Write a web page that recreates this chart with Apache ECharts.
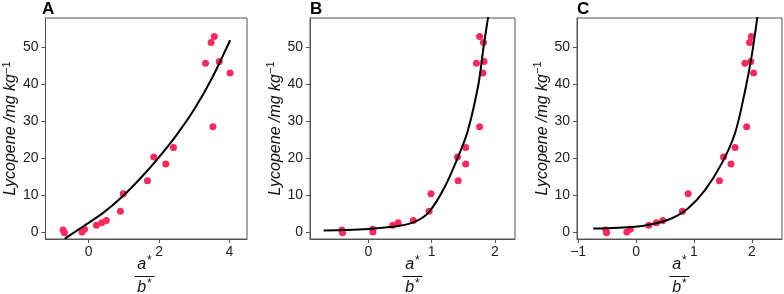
<!DOCTYPE html>
<html>
<head>
<meta charset="utf-8">
<script src="https://cdn.jsdelivr.net/npm/echarts@6/dist/echarts.min.js"></script>
<style>
  html, body { margin: 0; padding: 0; background: #fff; }
  #chart { width: 784px; height: 294px; }
</style>
</head>
<body>
<div id="chart"></div>
<script>
// measured lycopene values (same for every panel)
const lycopene = [0.6, -0.1, 0.1, 0.8, 1.9, 2.6, 3.2, 5.7, 10.4, 13.9, 20.3, 18.4, 22.9, 28.5, 52.8, 51.2, 45.6, 46.1, 43.0];
// x positions of the points in each panel
const xA = [-0.73, -0.69, -0.19, -0.12, 0.22, 0.37, 0.50, 0.90, 0.98, 1.67, 1.85, 2.19, 2.41, 3.53, 3.57, 3.48, 3.32, 3.71, 4.02];
const xB = [-0.42, -0.41, 0.07, 0.07, 0.385, 0.47, 0.71, 0.96, 0.99, 1.42, 1.41, 1.54, 1.54, 1.76, 1.76, 1.82, 1.71, 1.83, 1.81];
const xC = [-0.52, -0.51, -0.16, -0.10, 0.22, 0.35, 0.46, 0.80, 0.90, 1.44, 1.51, 1.64, 1.71, 1.91, 1.99, 1.96, 1.88, 1.98, 2.03];

// fitted curves
const curveAx = [-0.68, -0.17, 0.39, 0.95, 1.51, 2.0, 2.5, 3.0, 3.5, 4.02];
const curveAy = [-1.7, 1.5, 5.1, 9.6, 15.0, 20.3, 26.3, 33.2, 41.5, 51.8];
const curveBx = [-0.71, -0.35, 0, 0.47, 0.74, 0.95, 1.21, 1.42, 1.57, 1.74, 1.82, 1.90];
const curveBy = [0.5, 0.6, 0.9, 1.7, 2.9, 5.3, 12.3, 20.4, 27.2, 39.8, 49.7, 58.7];
const curveCx = [-0.74, -0.02, 0.33, 0.62, 0.90, 1.19, 1.48, 1.71, 1.88, 2.0, 2.10];
const curveCy = [1.0, 1.5, 2.4, 3.8, 6.5, 11.4, 18.6, 26.8, 38.0, 47.9, 58.7];

// axis ticks
const yTicks = [0, 10, 20, 30, 40, 50];
const xTicksA = [0, 2, 4];
const xTicksB = [0, 1, 2];
const xTicksC = [-1, 0, 1, 2];
const panelLabels = ['A', 'B', 'C'];

const font = 'Liberation Sans, Arial, sans-serif';
const axisColor = '#555';
const pointColor = '#fb2a5c';

const zip = (xs, ys) => xs.map((x, i) => [x, ys[i]]);

const panels = [
  { left: 42, xMin: -1.23, xMax: 4.5, ticks: xTicksA, pts: xA, cx: curveAx, cy: curveAy },
  { left: 310, xMin: -0.925, xMax: 2.32, ticks: xTicksB, pts: xB, cx: curveBx, cy: curveBy },
  { left: 577, xMin: -1.02, xMax: 2.52, ticks: xTicksC, pts: xC, cx: curveCx, cy: curveCy }
];
const gridTop = 18, gridH = 221, gridW = 205;

const option = {
  animation: false,
  grid: panels.map(p => ({
    left: p.left, top: gridTop, width: gridW, height: gridH,
    show: true, borderColor: axisColor, borderWidth: 1
  })),
  xAxis: panels.map((p, i) => ({
    gridIndex: i, type: 'value', min: p.xMin, max: p.xMax,
    splitLine: { show: false },
    axisLine: { show: true, onZero: false, lineStyle: { color: axisColor } },
    axisTick: { show: true, length: 4, customValues: p.ticks, lineStyle: { color: axisColor } },
    axisLabel: {
      customValues: p.ticks, margin: 6, fontSize: 14, color: '#222', fontFamily: font,
      formatter: v => String(v).replace('-', '\u2212')
    }
  })),
  yAxis: panels.map((p, i) => ({
    gridIndex: i, type: 'value', min: -1.8, max: 57.8,
    splitLine: { show: false },
    axisLine: { show: true, onZero: false, lineStyle: { color: axisColor } },
    axisTick: { show: true, length: 4, customValues: yTicks, lineStyle: { color: axisColor } },
    axisLabel: { customValues: yTicks, margin: 7, fontSize: 14, color: '#222', fontFamily: font },
    name: '{n|Lycopene /mg kg}{s|\u22121}',
    nameLocation: 'middle', nameGap: 20,
    nameTextStyle: {
      rich: {
        n: { fontSize: 16, fontStyle: 'italic', color: '#111', fontFamily: font },
        s: { fontSize: 11, color: '#111', fontFamily: font, verticalAlign: 'top', padding: [0, 0, 9, 0] }
      }
    }
  })),
  series: []
};

panels.forEach((p, i) => {
  option.series.push({
    type: 'scatter', xAxisIndex: i, yAxisIndex: i,
    data: zip(p.pts, lycopene),
    symbolSize: 7,
    itemStyle: { color: pointColor, opacity: 1 }
  });
  option.series.push({
    type: 'line', xAxisIndex: i, yAxisIndex: i,
    data: zip(p.cx, p.cy),
    smooth: 0.3, showSymbol: false, clip: true,
    lineStyle: { color: '#000', width: 2 },
    z: 3
  });
});

// panel letters and the a*/b* fraction under each x axis
const graphic = [];
panels.forEach((p, i) => {
  const cx = p.left + gridW / 2;
  graphic.push({
    type: 'text', left: p.left, top: 1,
    style: { text: panelLabels[i], font: 'bold 17px ' + font, fill: '#000' }
  });
  graphic.push({
    type: 'text', x: cx, y: 275,
    style: {
      text: '{a|a}{s|*}', textAlign: 'center', textVerticalAlign: 'bottom',
      rich: {
        a: { fontSize: 16, fontStyle: 'italic', fontFamily: font, fill: '#111' },
        s: { fontSize: 12, fontFamily: font, fill: '#111', padding: [0, 0, 8, 1] }
      }
    }
  });
  graphic.push({
    type: 'line', shape: { x1: cx - 10, y1: 276.5, x2: cx + 10, y2: 276.5 },
    style: { stroke: '#111', lineWidth: 1 }
  });
  graphic.push({
    type: 'text', x: cx, y: 278,
    style: {
      text: '{a|b}{s|*}', textAlign: 'center', textVerticalAlign: 'top',
      rich: {
        a: { fontSize: 16, fontStyle: 'italic', fontFamily: font, fill: '#111' },
        s: { fontSize: 12, fontFamily: font, fill: '#111', padding: [0, 0, 8, 1] }
      }
    }
  });
});
option.graphic = graphic;

const myChart = echarts.init(document.getElementById('chart'), null, { renderer: 'canvas' });
myChart.setOption(option);
</script>
</body>
</html>
